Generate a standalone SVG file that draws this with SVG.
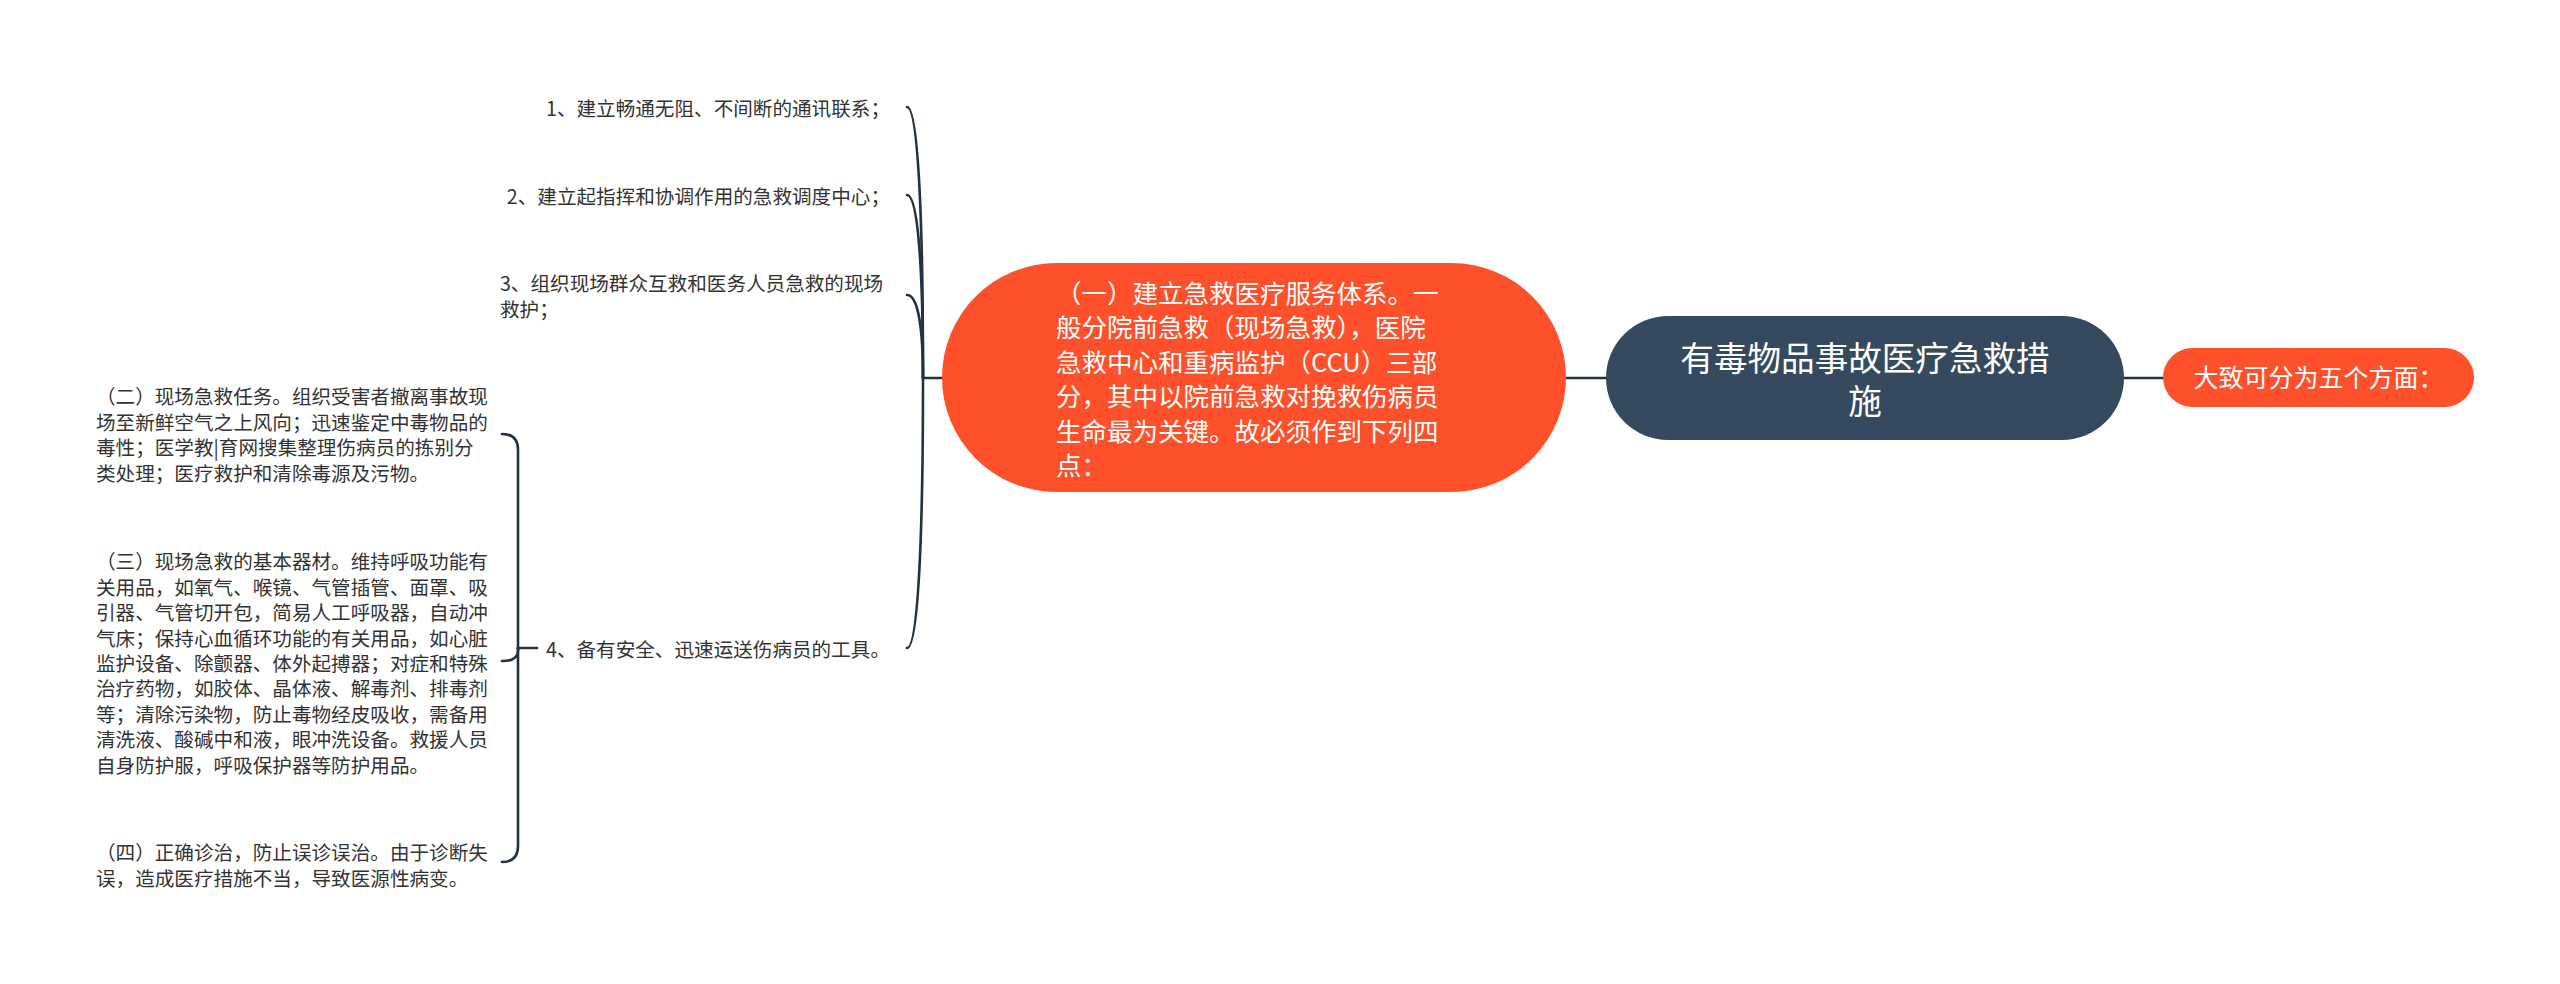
<svg xmlns="http://www.w3.org/2000/svg" width="2560" height="984" viewBox="0 0 2560 984">
<style>
text{font-family:"Noto Sans CJK SC","Noto Sans",sans-serif}
.leaf{font-size:19.6px;fill:#333333}
.conn{fill:none;stroke:#223242;stroke-width:2.6;stroke-linecap:round}
.orange{fill:#fe512b}
.dark{fill:#354a5e}
.wt{fill:#ffffff}
</style>
<rect x="0" y="0" width="2560" height="984" fill="#ffffff"/>
<g id="connectors">
<path class="conn" d="M1566 378 L1606 378"/>
<path class="conn" d="M2124 378 L2163 378"/>
<path class="conn" d="M942 378 L923 378"/>
<path class="conn" d="M923 378 C923 215.4 918 107 907 107"/>
<path class="conn" d="M923 378 C923 268.2 918 195 907 195"/>
<path class="conn" d="M923 378 C923 328.2 918 295 907 295"/>
<path class="conn" d="M923 378 C923 540 918 648 907 648"/>
<path class="conn" d="M537 648 L518 648"/>
<path class="conn" d="M518 648 L518 450 Q518 434 502 434"/>
<path class="conn" d="M518 648 L518 651 Q518 661 502 661"/>
<path class="conn" d="M518 648 L518 846 Q518 862 502 862"/>
</g>
<g id="root">
<rect class="dark" x="1606" y="316" width="518" height="124" rx="62" ry="62"/>
<text class="wt" font-size="33.6" text-anchor="middle"><tspan x="1865" y="370.8">有毒物品事故医疗急救措</tspan><tspan x="1865" y="413.8">施</tspan></text>
</g>
<g id="summary">
<rect class="orange" x="2163" y="348" width="311" height="59" rx="29.5" ry="29.5"/>
<text class="wt" font-size="25" text-anchor="middle" x="2318.5" y="387">大致可分为五个方面：</text>
</g>
<g id="part1">
<rect class="orange" x="942" y="263" width="624" height="229" rx="114.5" ry="114.5"/>
<text class="wt" font-size="25.5"><tspan x="1056" y="302.7">（一）建立急救医疗服务体系。一</tspan><tspan x="1056" y="337.2">般分院前急救（现场急救），医院</tspan><tspan x="1056" y="371.7">急救中心和重病监护（CCU）三部</tspan><tspan x="1056" y="406.2">分，其中以院前急救对挽救伤病员</tspan><tspan x="1056" y="440.7">生命最为关键。故必须作到下列四</tspan><tspan x="1056" y="475.2">点：</tspan></text>
</g>
<g id="item1">
<text class="leaf" text-anchor="end" x="890" y="116.4">1、建立畅通无阻、不间断的通讯联系；</text>
</g>
<g id="item2">
<text class="leaf" text-anchor="end" x="890" y="204.4">2、建立起指挥和协调作用的急救调度中心；</text>
</g>
<g id="item3">
<text class="leaf"><tspan x="500" y="291.4">3、组织现场群众互救和医务人员急救的现场</tspan><tspan x="500" y="316.9">救护；</tspan></text>
</g>
<g id="item4">
<text class="leaf" text-anchor="end" x="890" y="657.4">4、备有安全、迅速运送伤病员的工具。</text>
</g>
<g id="sub2">
<text class="leaf"><tspan x="96" y="404.4">（二）现场急救任务。组织受害者撤离事故现</tspan><tspan x="96" y="429.9">场至新鲜空气之上风向；迅速鉴定中毒物品的</tspan><tspan x="96" y="455.4">毒性；医学教|育网搜集整理伤病员的拣别分</tspan><tspan x="96" y="480.9">类处理；医疗救护和清除毒源及污物。</tspan></text>
</g>
<g id="sub3">
<text class="leaf"><tspan x="96" y="569.4">（三）现场急救的基本器材。维持呼吸功能有</tspan><tspan x="96" y="594.8">关用品，如氧气、喉镜、气管插管、面罩、吸</tspan><tspan x="96" y="620.2">引器、气管切开包，简易人工呼吸器，自动冲</tspan><tspan x="96" y="645.6">气床；保持心血循环功能的有关用品，如心脏</tspan><tspan x="96" y="671">监护设备、除颤器、体外起搏器；对症和特殊</tspan><tspan x="96" y="696.4">治疗药物，如胶体、晶体液、解毒剂、排毒剂</tspan><tspan x="96" y="721.8">等；清除污染物，防止毒物经皮吸收，需备用</tspan><tspan x="96" y="747.2">清洗液、酸碱中和液，眼冲洗设备。救援人员</tspan><tspan x="96" y="772.6">自身防护服，呼吸保护器等防护用品。</tspan></text>
</g>
<g id="sub4">
<text class="leaf"><tspan x="96" y="860.4">（四）正确诊治，防止误诊误治。由于诊断失</tspan><tspan x="96" y="885.9">误，造成医疗措施不当，导致医源性病变。</tspan></text>
</g>
</svg>
